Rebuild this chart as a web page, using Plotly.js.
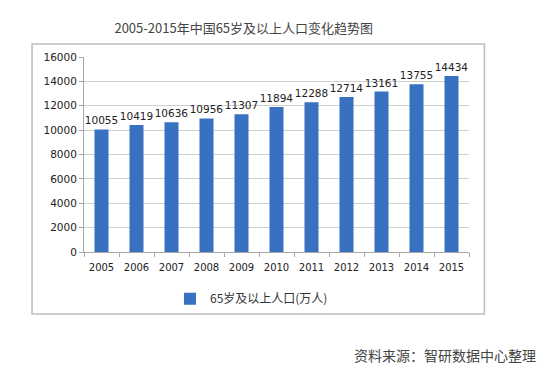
<!DOCTYPE html>
<html><head><meta charset="utf-8">
<script src="https://cdn.plot.ly/plotly-3.0.1.min.js"></script>
<style>html,body{margin:0;padding:0;background:#fff;}#c{width:554px;height:374px;}</style>
</head><body><div id="c"></div>
<script>
const years = ['2005','2006','2007','2008','2009','2010','2011','2012','2013','2014','2015'];
const population = [10055,10419,10636,10956,11307,11894,12288,12714,13161,13755,14434];
const seriesName = '65岁及以上人口(万人)';
const chartTitle = '2005-2015年中国65岁及以上人口变化趋势图';
const sourceNote = '资料来源：智研数据中心整理';

const trace = {
  type: 'bar', x: years, y: population, name: seriesName,
  marker: {color: '#3771bf', line: {width: 0}},
  text: population.map(String), textposition: 'outside', constraintext: 'none',
  textfont: {family: 'DejaVu Sans, sans-serif', size: 10.5, color: '#222'},
  cliponaxis: false, showlegend: true
};
const layout = {
  width: 554, height: 374,
  margin: {l: 84, r: 85, t: 57, b: 122},
  paper_bgcolor: '#fff', plot_bgcolor: '#fff',
  bargap: 0.6,
  uniformtext: {mode: false},
  title: {text: chartTitle, x: 0.44, xanchor: 'center', y: 0.925, yanchor: 'middle',
          font: {family: 'Noto Sans CJK SC, sans-serif', size: 13, color: '#444'}},
  xaxis: {type: 'category', showline: true, linecolor: '#a6a6a6', linewidth: 1, tickangle: 0,
          ticks: 'outside', tickson: 'boundaries', ticklen: 4, tickcolor: '#a6a6a6', ticklabelstandoff: 6,
          tickfont: {family: 'DejaVu Sans, sans-serif', size: 10, color: '#222'}, showgrid: false},
  yaxis: {range: [0, 16000], dtick: 2000, tickformat: 'd', showline: true, linecolor: '#a6a6a6', linewidth: 1,
          ticks: 'outside', ticklen: 4, tickcolor: '#a6a6a6', gridcolor: '#cfcfcf', gridwidth: 1,
          tickfont: {family: 'DejaVu Sans, sans-serif', size: 10.5, color: '#222'}, zeroline: false},
  legend: {orientation: 'h', x: 0.435, xanchor: 'center', y: -0.24, yanchor: 'middle', itemwidth: 30,
           font: {family: 'Noto Sans CJK SC, sans-serif', size: 12, color: '#333'}},
  shapes: [{type: 'rect', xref: 'paper', yref: 'paper', x0: -0.135, x1: 1.04, y0: -0.318, y1: 1.067,
            line: {color: '#bdbdbd', width: 1.5}, fillcolor: 'rgba(0,0,0,0)'}],
  annotations: [{text: sourceNote, xref: 'paper', yref: 'paper', x: 1.179, xanchor: 'right', y: -0.53, yanchor: 'middle',
                 showarrow: false, font: {family: 'Noto Sans CJK SC, sans-serif', size: 14, color: '#444'}}]
};
Plotly.newPlot('c', [trace], layout, {displayModeBar: false, staticPlot: true});
</script></body></html>
